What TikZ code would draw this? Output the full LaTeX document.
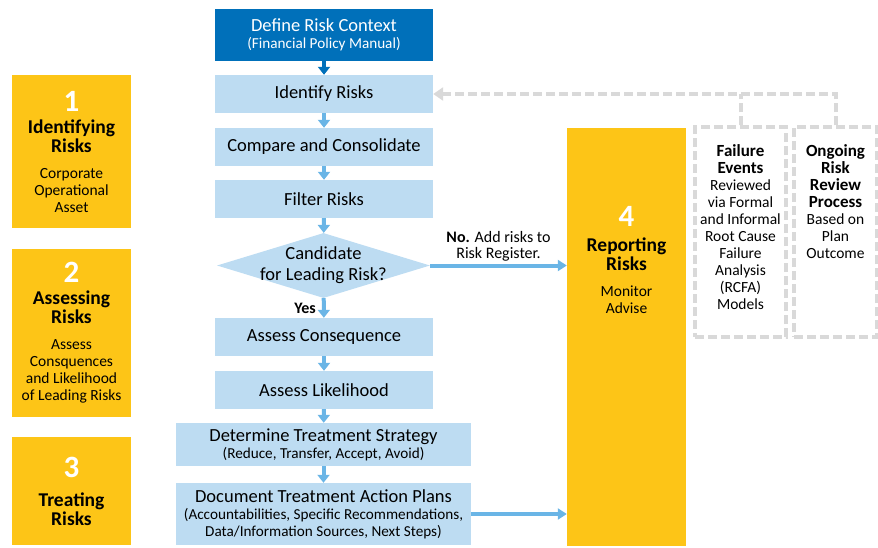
\documentclass[tikz,border=0pt]{standalone}
\usepackage{fontspec}
\setmainfont{Carlito}
\usepackage{tikz}
\usetikzlibrary{arrows.meta, shapes.geometric}
\definecolor{geel}{RGB}{253,197,23}
\definecolor{donkerblauw}{RGB}{0,112,186}
\definecolor{lichtblauw}{RGB}{189,220,242}
\definecolor{pijlblauw}{RGB}{106,181,230}
\definecolor{grijs}{RGB}{217,217,217}
\newcommand{\stapnr}[1]{{\fontsize{31}{31}\selectfont\bfseries\color{white}#1}}
\newcommand{\kop}[1]{{\fontsize{19.5}{19}\selectfont\bfseries #1}}
\newcommand{\kopje}[1]{{\fontsize{17}{17}\selectfont\bfseries #1}}
\newcommand{\toel}[1]{{\fontsize{15.2}{16}\selectfont #1}}

\begin{document}
\begin{tikzpicture}[x=1pt, y=-1pt,
  stap/.style={fill=lichtblauw, minimum width=218pt, minimum height=38pt, inner sep=0pt,
    align=center, font=\fontsize{18.5}{17}\selectfont},
  fase/.style={fill=geel, minimum width=119pt, inner sep=0pt, align=center,
    font=\fontsize{15.5}{17}\selectfont},
  kader/.style={draw=grijs, line width=3.5pt, dash pattern=on 9pt off 4pt,
    minimum width=#1, minimum height=210pt, inner sep=0pt},
  tekst/.style={anchor=north, align=center, inner sep=0pt, font=\fontsize{15.5}{17}\selectfont},
  pijl/.style={pijlblauw, line width=4pt, -{Triangle[width=12pt,length=8pt]}},
  terug/.style={grijs, line width=4pt, dash pattern=on 9pt off 4pt,
    -{Triangle[width=13pt,length=10pt]}}]
  \useasboundingbox (0,0) rectangle (878,547);

  % Fasen links
  \node[fase, minimum height=153pt] (fase1) at (71.5,151.5)
    {\stapnr{1}\\[5pt] \kop{Identifying}\\[2pt] \kop{Risks}\\[9pt] Corporate\\ Operational\\ Asset};
  \node[fase, minimum height=168pt] (fase2) at (71.5,333)
    {\stapnr{2}\\[5pt] \kop{Assessing}\\[2pt] \kop{Risks}\\[9pt] Assess\\ Consquences\\ and Likelihood\\ of Leading Risks};
  \node[fase, minimum height=108pt] (fase3) at (71.5,491)
    {\stapnr{3}\\[12pt] \kop{Treating}\\[2pt] \kop{Risks}};

  % Stappen
  \node[stap, fill=donkerblauw, text=white, minimum height=52pt] (context) at (324,35)
    {Define Risk Context\\ \toel{(Financial Policy Manual)}};
  \node[stap] (identify) at (324,94) {Identify Risks};
  \node[stap] (vergelijk) at (324,147) {Compare and Consolidate};
  \node[stap] (filter) at (324,199) {Filter Risks};
  \node[diamond, fill=lichtblauw, minimum width=213pt, minimum height=65pt, inner sep=0pt]
    (kandidaat) at (323.5,265.5) {};
  \node[align=center, inner sep=0pt, font=\fontsize{18.5}{21}\selectfont] (vraag) at (kandidaat)
    {Candidate\\for Leading Risk?};
  \node[stap] (gevolg) at (324,337) {Assess Consequence};
  \node[stap] (kans) at (324,390) {Assess Likelihood};
  \node[stap, minimum width=295pt, minimum height=43pt] (strategie) at (323.5,444.5)
    {Determine Treatment Strategy\\ \toel{(Reduce, Transfer, Accept, Avoid)}};
  \node[stap, minimum width=295pt, minimum height=62pt] (plannen) at (323.5,514)
    {Document Treatment Action Plans\\ \toel{(Accountabilities, Specific Recommendations,}\\
     \toel{Data/Information Sources, Next Steps)}};

  % Rapportage
  \node[fill=geel, minimum width=119pt, minimum height=418pt, inner sep=0pt] (rapport) at (626.5,337) {};
  \node[tekst] (rapporttekst) at ([yshift=-78pt]rapport.north)
    {\stapnr{4}\\[8pt] \kop{Reporting}\\[2pt] \kop{Risks}\\[9pt] Monitor\\ Advise};

  % Terugkoppeling
  \node[kader=91pt] (falen) at (740.5,232) {};
  \node[tekst] (falentekst) at ([yshift=-19pt]falen.north)
    {\kopje{Failure}\\ \kopje{Events}\\ Reviewed\\ via Formal\\ and Informal\\ Root Cause\\
     Failure\\ Analysis\\ (RCFA)\\ Models};
  \node[kader=83pt] (herzien) at (835.5,232) {};
  \node[tekst] (herzientekst) at ([yshift=-19pt]herzien.north)
    {\kopje{Ongoing}\\ \kopje{Risk}\\ \kopje{Review}\\ \kopje{Process}\\ Based on\\ Plan\\ Outcome};

  % Pijlen
  \draw[pijl, donkerblauw] (context) -- (identify);
  \draw[pijl] (identify) -- (vergelijk);
  \draw[pijl] (vergelijk) -- (filter);
  \draw[pijl] (filter) -- (kandidaat);
  \draw[pijl] (kandidaat) -- (gevolg)
    node[midway, left=6pt, inner sep=0pt, text=black, font=\fontsize{16}{17}\selectfont\bfseries] (ja) {Yes};
  \draw[pijl] (gevolg) -- (kans);
  \draw[pijl] (kans) -- (strategie);
  \draw[pijl] (strategie) -- (plannen);
  \draw[pijl, -{Triangle[width=11pt,length=9pt]}] (kandidaat.east) -- (kandidaat.east -| rapport.west)
    node[midway, above=2pt, inner sep=0pt, text=black, align=center, font=\fontsize{16}{16}\selectfont] (nee)
    {\textbf{No.} Add risks to\\ Risk Register.};
  \draw[pijl, -{Triangle[width=11pt,length=9pt]}] (plannen.east) -- (plannen.east -| rapport.west);
  \draw[terug] (herzien.north) |- (identify.east);
  \draw[terug, -] (falen.north) -- (falen.north |- identify.east);
\end{tikzpicture}
\end{document}
